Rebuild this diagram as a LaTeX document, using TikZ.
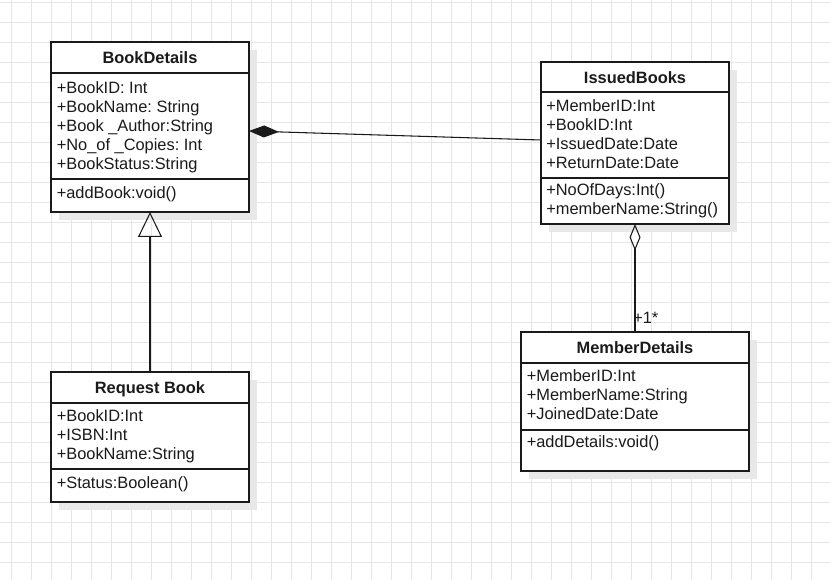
\documentclass[tikz,border=0pt]{standalone}
\usepackage{fontspec}
\setmainfont{Liberation Sans}
\usetikzlibrary{arrows.meta,shadows}
\frenchspacing

\definecolor{gridline}{HTML}{E6E6E6}
\definecolor{ink}{HTML}{1A1A1A}
\definecolor{shade}{HTML}{E8E8E8}

\tikzset{
  umlbox/.style={draw=ink, line width=1pt, fill=white, inner sep=0pt, outer sep=0pt,
    drop shadow={shadow xshift=6pt, shadow yshift=-6pt, fill=shade, opacity=1}},
  divider/.style={draw=ink, line width=1pt},
  classtitle/.style={anchor=base, inner sep=0pt, text=ink,
    font=\fontsize{12.3pt}{14pt}\selectfont\bfseries},
  member/.style={anchor=base west, inner sep=0pt, text=ink,
    font=\fontsize{12.3pt}{14pt}\selectfont},
  link/.style={draw=ink, line width=0.8pt},
}

\begin{document}
\begin{tikzpicture}[x=0.75pt, y=-0.75pt]
  \useasboundingbox (0,0) rectangle (830,580);

  % background grid, 20 units apart
  \begin{scope}
    \clip (0,0) rectangle (830,580);
    \foreach \gx in {11.7,31.7,...,831.7}
      \draw[gridline, line width=0.75pt] (\gx,0) -- (\gx,580);
    \foreach \gy in {2.7,22.7,...,582.7}
      \draw[gridline, line width=0.75pt] (0,\gy) -- (830,\gy);
  \end{scope}

  % ---------- BookDetails ----------
  \node[umlbox, minimum width=148.5pt, minimum height=127.5pt] (bd) at (150,127) {};
  \draw[divider] (51,73) -- (249,73);
  \draw[divider] (51,179) -- (249,179);
  \node[classtitle] (bd-title) at (150,63.5) {BookDetails};
  \foreach \t [count=\i] in {+BookID: Int, +BookName: String, +Book \_Author:String,
      +No\_of \_Copies: Int, +BookStatus:String}
    \node[member] (bd-a\i) at (56.5,94+19*\i-19) {\t};
  \node[member] (bd-m1) at (56.5,199) {+addBook:void()};

  % ---------- IssuedBooks ----------
  \node[umlbox, minimum width=141pt, minimum height=121.5pt] (ib) at (635,143) {};
  \draw[divider] (541,92) -- (729,92);
  \draw[divider] (541,178) -- (729,178);
  \node[classtitle] (ib-title) at (635,83.5) {IssuedBooks};
  \foreach \t [count=\i] in {+MemberID:Int, +BookID:Int, +IssuedDate:Date, +ReturnDate:Date}
    \node[member] (ib-a\i) at (546,112+19*\i-19) {\t};
  \node[member] (ib-m1) at (546,196) {+NoOfDays:Int()};
  \node[member] (ib-m2) at (546,215) {+memberName:String()};

  % ---------- MemberDetails ----------
  \node[umlbox, minimum width=171pt, minimum height=104.25pt] (md) at (635,401.5) {};
  \draw[divider] (521,363) -- (749,363);
  \draw[divider] (521,430) -- (749,430);
  \node[classtitle] (md-title) at (635,353.5) {MemberDetails};
  \foreach \t [count=\i] in {+MemberID:Int, +MemberName:String, +JoinedDate:Date}
    \node[member] (md-a\i) at (526.5,381+19*\i-19) {\t};
  \node[member] (md-m1) at (526.5,447) {+addDetails:void()};

  % ---------- Request Book ----------
  \node[umlbox, minimum width=148.5pt, minimum height=97.5pt] (rb) at (150,437) {};
  \draw[divider] (51,403) -- (249,403);
  \draw[divider] (51,469) -- (249,469);
  \node[classtitle] (rb-title) at (150,393.5) {Request Book};
  \foreach \t [count=\i] in {+BookID:Int, +ISBN:Int, +BookName:String}
    \node[member] (rb-a\i) at (56.5,421+19*\i-19) {\t};
  \node[member] (rb-m1) at (56.5,488) {+Status:Boolean()};

  % ---------- relationships ----------
  % generalization: Request Book -> BookDetails
  \draw[link, -{Triangle[open, length=18.75pt, width=18pt]}] (rb.north) -- (bd.south);
  % composition: BookDetails <>-- IssuedBooks
  \draw[link, {Diamond[length=22.5pt, width=9pt]}-] ([yshift=-3pt]bd.east) -- ([yshift=2.25pt]ib.west);
  % aggregation: IssuedBooks <>-- MemberDetails
  \draw[link, {Diamond[open, length=20pt, width=8.25pt]}-] (ib.south) -- (md.north);
  \node[member] (mult) at (633,324) {+1*};
\end{tikzpicture}
\end{document}
